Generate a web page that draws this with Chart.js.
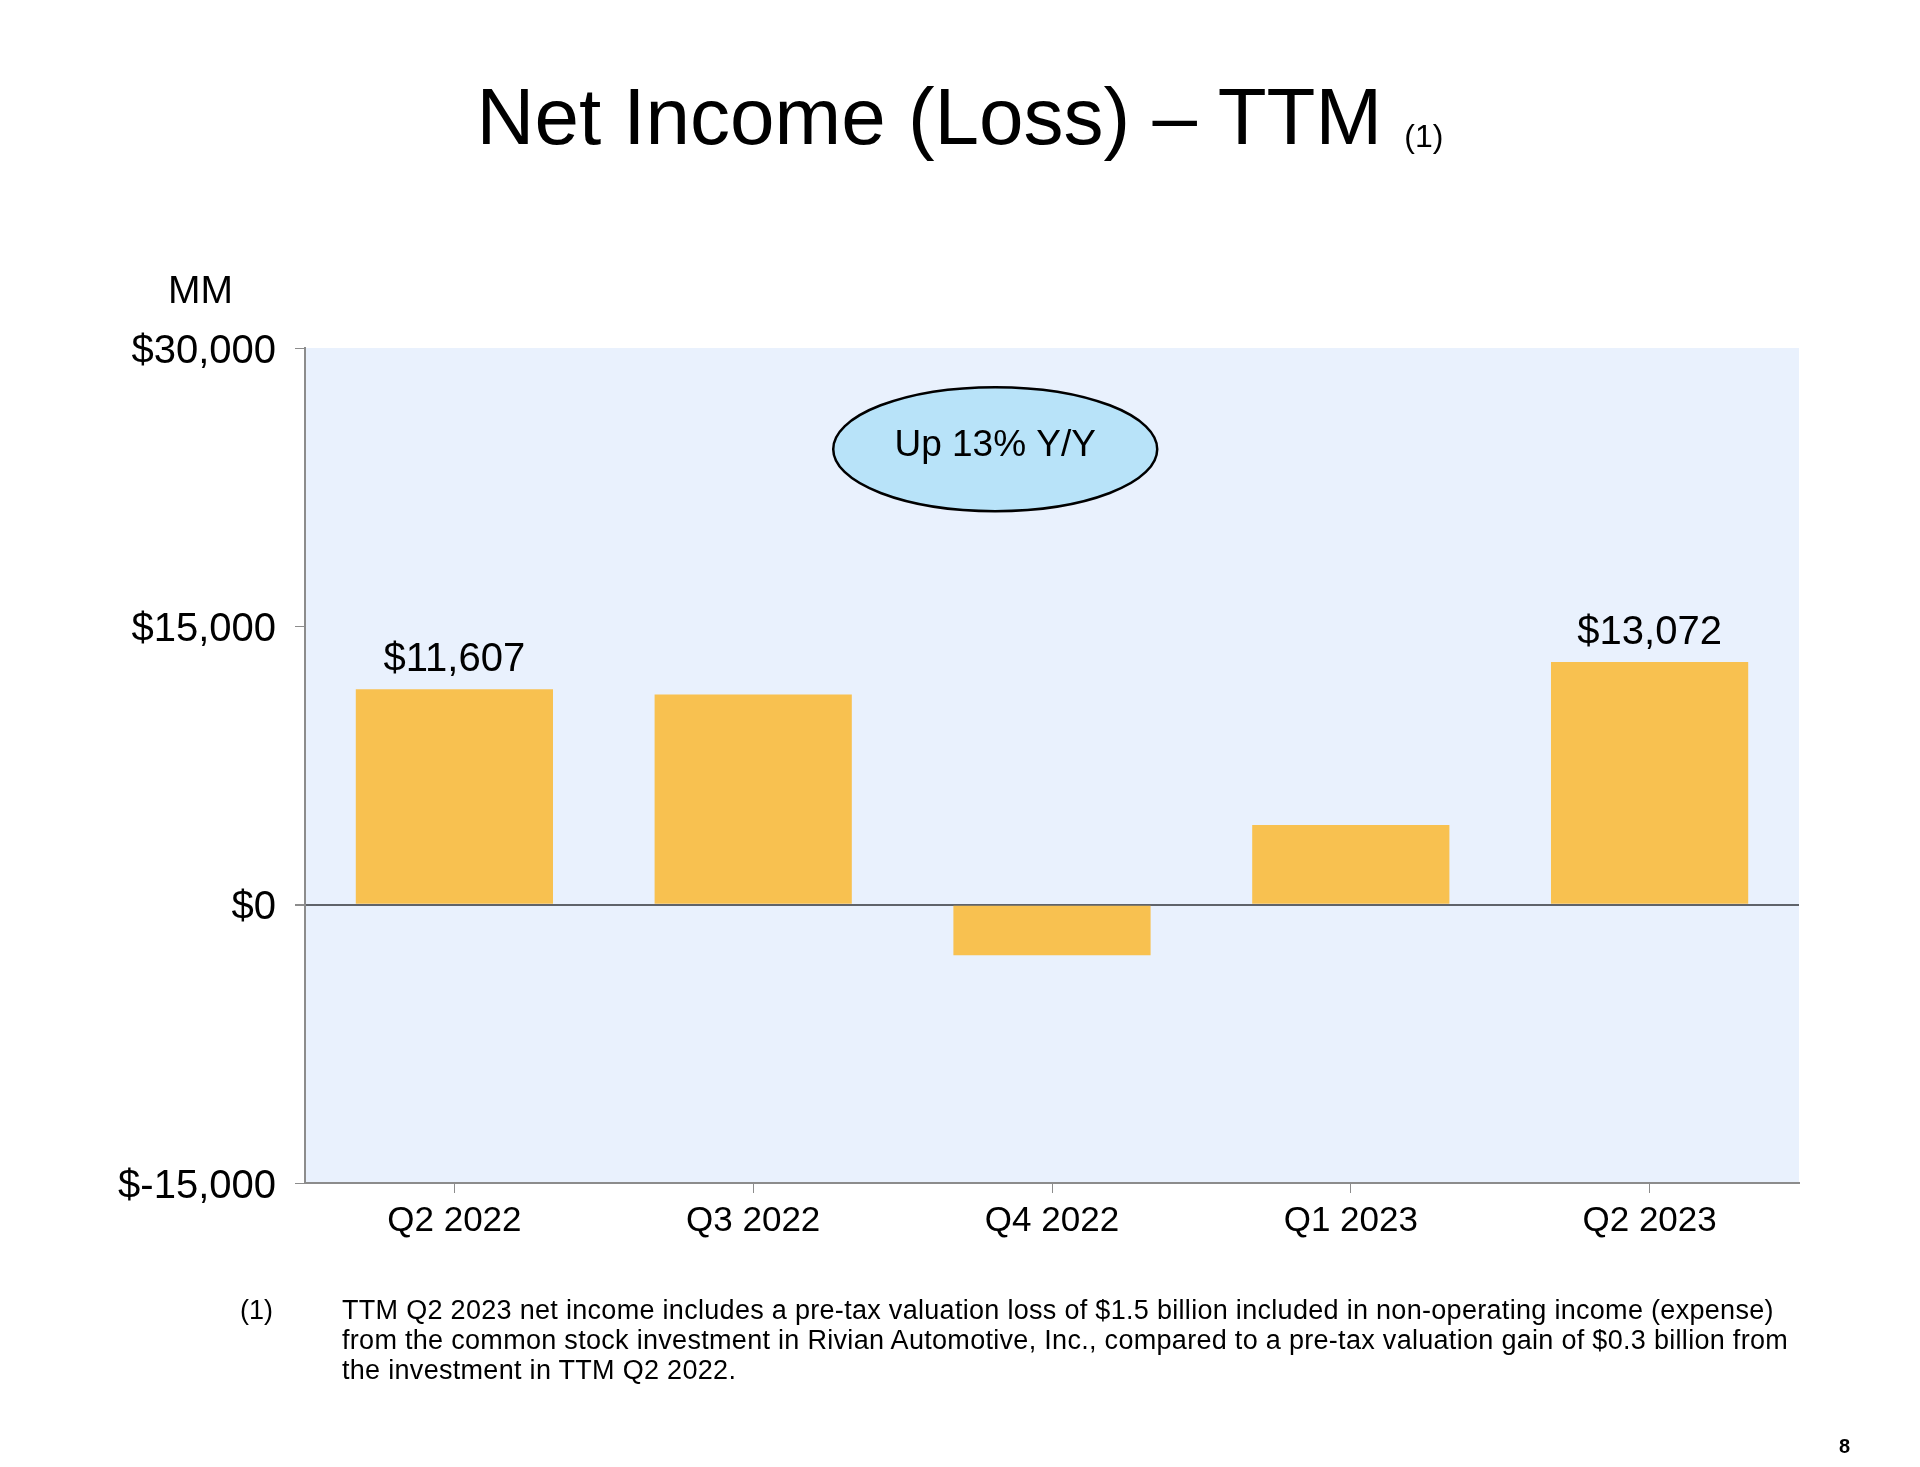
<!DOCTYPE html>
<html>
<head>
<meta charset="utf-8">
<script src="https://cdn.jsdelivr.net/npm/chart.js@4"></script>
<style>
    body { margin: 0; width: 1920px; height: 1467px; background: #fff; position: relative; overflow: hidden;
           font-family: 'Liberation Sans', Arial, sans-serif; color: #000; }
    #chartBox { position: absolute; left: 0; top: 0; width: 1920px; height: 1467px; }
    .title { position: absolute; left: 0; top: 77px; width: 1920px; text-align: center; font-size: 80px; line-height: 80px; }
    .title span { font-size: 32px; vertical-align: -3px; }
    .unit { position: absolute; left: 168px; top: 270px; font-size: 39px; line-height: 39px; }
    .note-num { position: absolute; left: 240px; top: 1295px; font-size: 27px; line-height: 30px; }
    .note { position: absolute; left: 342px; top: 1295px; font-size: 27px; line-height: 30px; letter-spacing: 0.3px; white-space: nowrap; }
    .page { position: absolute; left: 1839px; top: 1436px; font-size: 20px; line-height: 20px; font-weight: bold; }
</style>
</head>
<body>
<div id="chartBox"><canvas id="incomeChart" width="1920" height="1467"></canvas></div>
<div class="title">Net Income (Loss) – TTM <span>(1)</span></div>
<div class="unit">MM</div>
<div class="note-num">(1)</div>
<div class="note">TTM Q2 2023 net income includes a pre-tax valuation loss of $1.5 billion included in non-operating income (expense)<br>from the common stock investment in Rivian Automotive, Inc., compared to a pre-tax valuation gain of $0.3 billion from<br>the investment in TTM Q2 2022.</div>
<div class="page">8</div>

<script>
// data
const quarters = ['Q2 2022', 'Q3 2022', 'Q4 2022', 'Q1 2023', 'Q2 2023'];
const netIncomeTTM = [11607, 11323, -2722, 4294, 13072];
const showValueLabel = [true, false, false, false, true];
const yTicks = [-15000, 0, 15000, 30000];
const calloutText = 'Up 13% Y/Y';

const FONT = "'Liberation Sans', Arial, sans-serif";
const money = v => '$' + v.toLocaleString('en-US');

Chart.defaults.font.family = FONT;
Chart.defaults.color = '#000';

const plotBackground = {
    id: 'plotBackground',
    beforeDraw(chart) {
        const { ctx, chartArea: a } = chart;
        ctx.save();
        ctx.fillStyle = '#e9f1fd';
        ctx.fillRect(a.left, a.top, a.right - a.left, a.bottom - a.top);
        ctx.restore();
    }
};

const valueLabels = {
    id: 'valueLabels',
    afterDatasetsDraw(chart) {
        const { ctx } = chart;
        const bars = chart.getDatasetMeta(0).data;
        ctx.save();
        ctx.font = `40px ${FONT}`;
        ctx.fillStyle = '#000';
        ctx.textAlign = 'center';
        ctx.textBaseline = 'alphabetic';
        bars.forEach((bar, i) => {
            if (!showValueLabel[i]) return;
            ctx.fillText(money(netIncomeTTM[i]), bar.x, bar.y - 18);
        });

        // "Up 13% Y/Y" bubble, placed in data space between Q3 and Q4
        const cx = chart.scales.x.getPixelForValue(1.81);
        const cy = chart.scales.y.getPixelForValue(24550);
        ctx.beginPath();
        ctx.ellipse(cx, cy, 162, 62, 0, 0, Math.PI * 2);
        ctx.fillStyle = '#b8e3f9';
        ctx.fill();
        ctx.lineWidth = 2.5;
        ctx.strokeStyle = '#000';
        ctx.stroke();
        ctx.font = `37px ${FONT}`;
        ctx.fillStyle = '#000';
        ctx.fillText(calloutText, cx, cy + 7);
        ctx.restore();
    }
};

new Chart(document.getElementById('incomeChart'), {
    type: 'bar',
    data: {
        labels: quarters,
        datasets: [{
            data: netIncomeTTM,
            backgroundColor: '#f8c150',
            borderWidth: 0,
            barPercentage: 0.66,
            categoryPercentage: 1
        }]
    },
    options: {
        responsive: false,
        animation: false,
        devicePixelRatio: 1,
        layout: { padding: { left: 0, top: 348, right: 121, bottom: 0 } },
        plugins: { legend: { display: false }, tooltip: { enabled: false } },
        scales: {
            x: {
                grid: { offset: false, drawOnChartArea: false, tickLength: 10, tickColor: '#8c8c8c', color: '#8c8c8c' },
                border: { color: '#8c8c8c', width: 2 },
                ticks: { font: { size: 35 }, color: '#000', padding: 7, maxRotation: 0 },
                afterFit: s => { s.height = 284; }
            },
            y: {
                min: -15000,
                max: 30000,
                afterBuildTicks: s => { s.ticks = yTicks.map(v => ({ value: v })); },
                grid: {
                    color: c => c.tick && c.tick.value === 0 ? '#5f636a' : 'rgba(0,0,0,0)',
                    lineWidth: c => c.tick && c.tick.value === 0 ? 2 : 1,
                    tickColor: '#8c8c8c',
                    tickLength: 10
                },
                border: { color: '#8c8c8c', width: 2 },
                ticks: { font: { size: 40 }, color: '#000', padding: 19, labelOffset: 3.5, callback: v => money(v) },
                afterFit: s => { s.width = 305; }
            }
        }
    },
    plugins: [plotBackground, valueLabels]
});
</script>
</body>
</html>
